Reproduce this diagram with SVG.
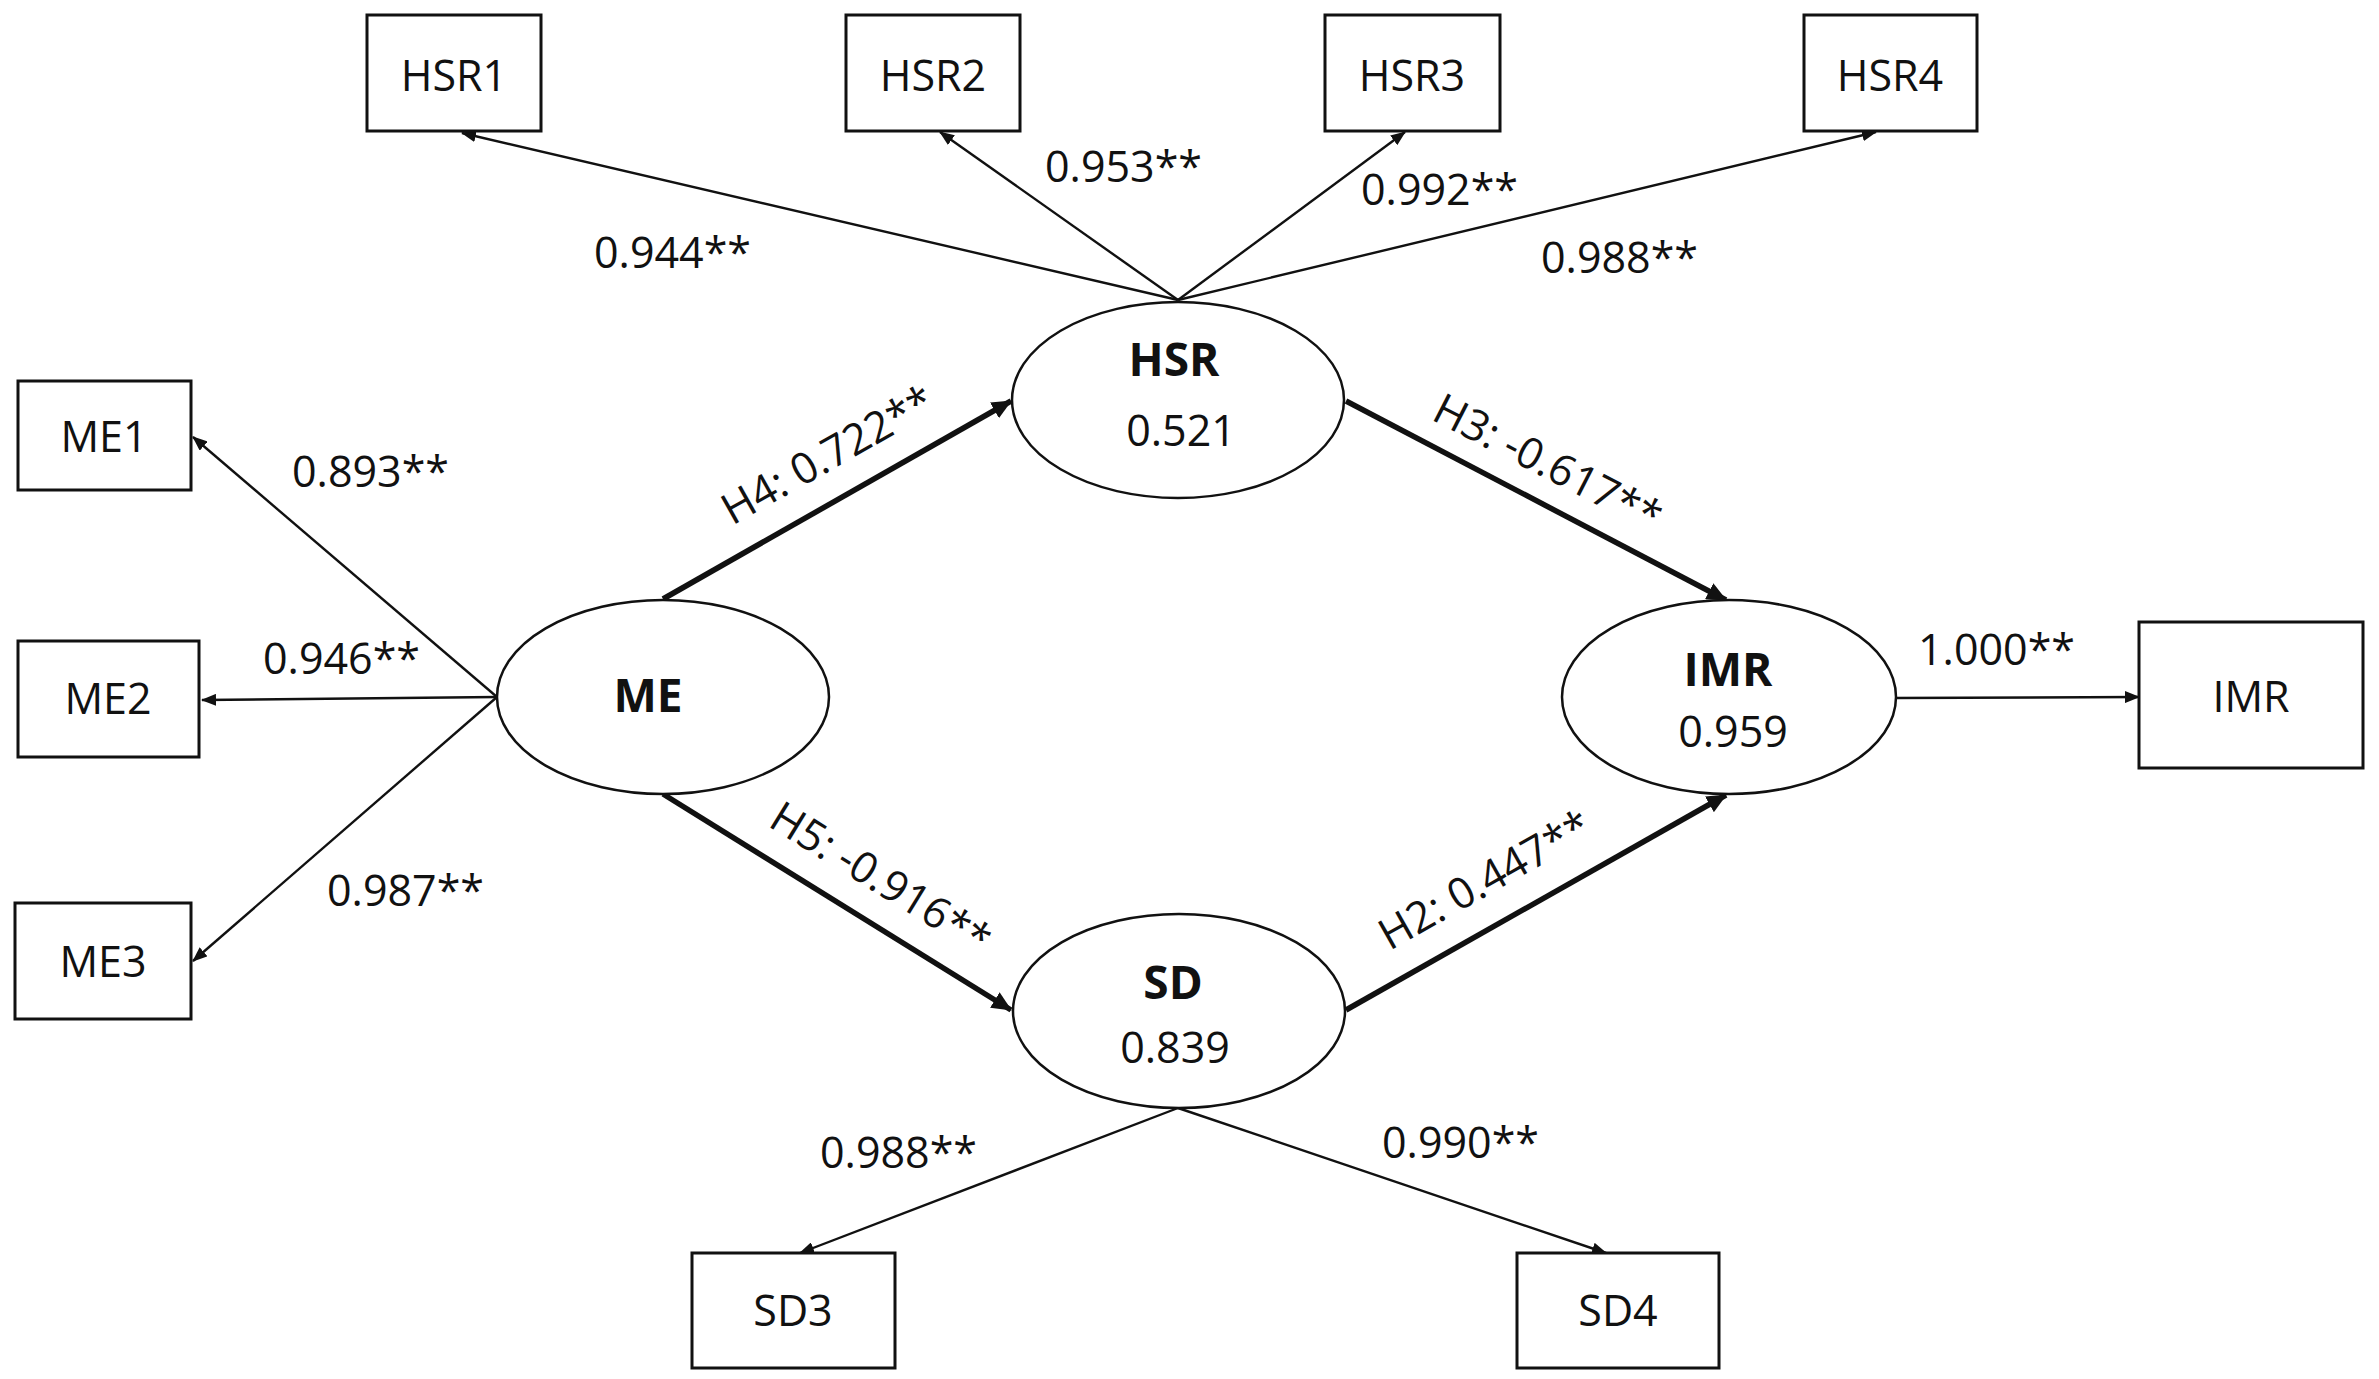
<svg xmlns="http://www.w3.org/2000/svg" width="2379" height="1379" viewBox="0 0 2379 1379">
<style>
text{font-family:"Open Sans","Liberation Sans",sans-serif;font-size:43px;fill:#111}
.b{font-weight:bold;font-size:46px}
.m{text-anchor:middle}
.box{fill:#fff;stroke:#111;stroke-width:3}
.ell{fill:#fff;stroke:#111;stroke-width:2.5}
.thin{stroke:#111;stroke-width:2.4;fill:none;marker-end:url(#at)}
.thick{stroke:#111;stroke-width:5.5;fill:none;marker-end:url(#ak)}
</style>
<defs>
<marker id="at" markerUnits="userSpaceOnUse" markerWidth="16" markerHeight="12" refX="14" refY="6" orient="auto"><path d="M0,0 L15,6 L0,12 z" fill="#111"/></marker>
<marker id="ak" markerUnits="userSpaceOnUse" markerWidth="22" markerHeight="18" refX="19" refY="9" orient="auto"><path d="M0,0 L20,9 L0,18 z" fill="#111"/></marker>
</defs>
<rect width="2379" height="1379" fill="#fff"/>
<g id="connectors">
<line class="thin" x1="1178" y1="300" x2="462" y2="133"/>
<line class="thin" x1="1178" y1="300" x2="940" y2="132"/>
<line class="thin" x1="1178" y1="300" x2="1405" y2="132"/>
<line class="thin" x1="1178" y1="300" x2="1876" y2="132"/>
<line class="thin" x1="497" y1="697" x2="193" y2="437"/>
<line class="thin" x1="497" y1="697" x2="202" y2="700"/>
<line class="thin" x1="497" y1="697" x2="193" y2="961"/>
<line class="thin" x1="1178" y1="1108" x2="800" y2="1253"/>
<line class="thin" x1="1178" y1="1108" x2="1606" y2="1253"/>
<line class="thin" x1="1895" y1="698" x2="2139" y2="697"/>
<line class="thick" x1="663" y1="599" x2="1011" y2="401"/>
<line class="thick" x1="1346" y1="401" x2="1726" y2="600"/>
<line class="thick" x1="663" y1="794" x2="1011" y2="1010"/>
<line class="thick" x1="1346" y1="1010" x2="1726" y2="795"/>
<text x="594" y="268">0.944**</text>
<text x="1045" y="182">0.953**</text>
<text x="1361" y="205">0.992**</text>
<text x="1541" y="273">0.988**</text>
<text x="292" y="487">0.893**</text>
<text x="263" y="674">0.946**</text>
<text x="327" y="906">0.987**</text>
<text x="1918" y="665">1.000**</text>
<text x="820" y="1168">0.988**</text>
<text x="1382" y="1158">0.990**</text>
<text class="m" transform="translate(835,468) rotate(-29.4)">H4: 0.722**</text>
<text class="m" transform="translate(1541,476) rotate(27.2)">H3: -0.617**</text>
<text class="m" transform="translate(873,891) rotate(31.7)">H5: -0.916**</text>
<text class="m" transform="translate(1492,893) rotate(-29.5)">H2: 0.447**</text>
</g>
<g id="HSR1"><rect class="box" x="367" y="15" width="174" height="116"/><text class="m" x="454" y="91">HSR1</text></g>
<g id="HSR2"><rect class="box" x="846" y="15" width="174" height="116"/><text class="m" x="933" y="91">HSR2</text></g>
<g id="HSR3"><rect class="box" x="1325" y="15" width="175" height="116"/><text class="m" x="1412" y="91">HSR3</text></g>
<g id="HSR4"><rect class="box" x="1804" y="15" width="173" height="116"/><text class="m" x="1890" y="91">HSR4</text></g>
<g id="ME1"><rect class="box" x="18" y="381" width="173" height="109"/><text class="m" x="104" y="452">ME1</text></g>
<g id="ME2"><rect class="box" x="18" y="641" width="181" height="116"/><text class="m" x="108" y="714">ME2</text></g>
<g id="ME3"><rect class="box" x="15" y="903" width="176" height="116"/><text class="m" x="103" y="977">ME3</text></g>
<g id="IMR_box"><rect class="box" x="2139" y="622" width="224" height="146"/><text class="m" x="2251" y="712">IMR</text></g>
<g id="SD3"><rect class="box" x="692" y="1253" width="203" height="115"/><text class="m" x="793" y="1326">SD3</text></g>
<g id="SD4"><rect class="box" x="1517" y="1253" width="202" height="115"/><text class="m" x="1618" y="1326">SD4</text></g>
<g id="HSR"><ellipse class="ell" cx="1178" cy="400" rx="166" ry="98"/><text class="m b" x="1174" y="376">HSR</text><text class="m" x="1181" y="446">0.521</text></g>
<g id="ME"><ellipse class="ell" cx="663" cy="697" rx="166" ry="97"/><text class="m b" x="648" y="712">ME</text></g>
<g id="IMR"><ellipse class="ell" cx="1729" cy="697" rx="167" ry="97"/><text class="m b" x="1728" y="686">IMR</text><text class="m" x="1733" y="747">0.959</text></g>
<g id="SD"><ellipse class="ell" cx="1179" cy="1011" rx="166" ry="97"/><text class="m b" x="1173" y="999">SD</text><text class="m" x="1175" y="1063">0.839</text></g>
</svg>
